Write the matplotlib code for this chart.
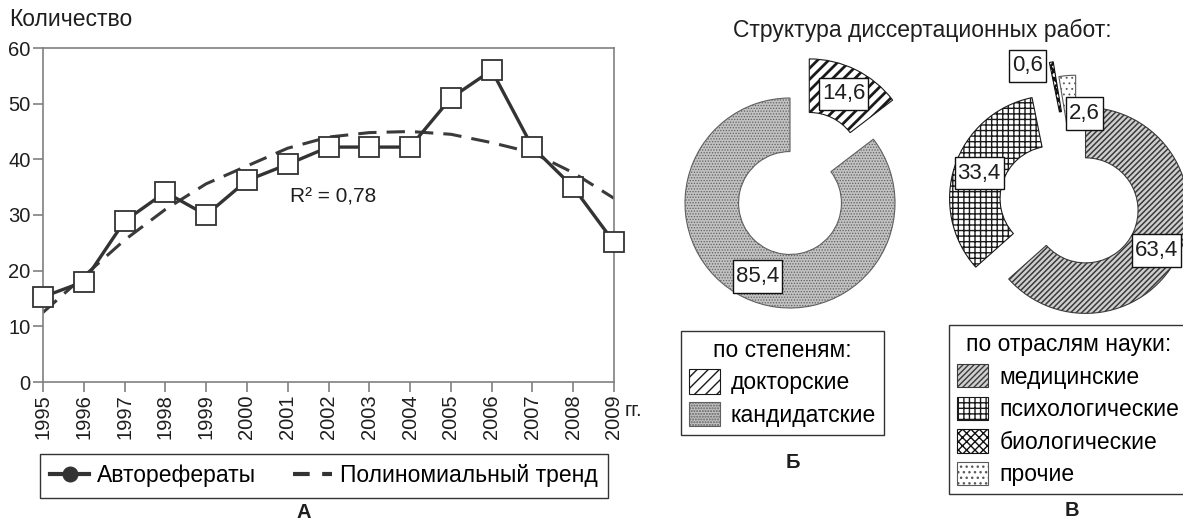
import matplotlib

matplotlib.use("Agg")
import matplotlib.pyplot as plt
import matplotlib.patches as mpatches
from matplotlib.lines import Line2D

plt.rcParams["font.family"] = ["Liberation Sans", "DejaVu Sans"]
plt.rcParams["hatch.linewidth"] = 1.0

# %% data
YEARS = [1995, 1996, 1997, 1998, 1999, 2000, 2001, 2002, 2003, 2004, 2005, 2006, 2007, 2008, 2009]
ABSTRACTS = [15.3, 18.0, 28.9, 34.1, 30.0, 36.2, 39.1, 42.2, 42.2, 42.2, 51.0, 56.0, 42.2, 35.0, 25.1]
TREND = [12.5, 19.0, 25.5, 31.0, 35.6, 38.8, 42.0, 44.0, 44.8, 45.0, 44.5, 43.0, 41.2, 37.6, 33.0]
R2_TEXT = "R² = 0,78"

DEGREE_LABELS = ["докторские", "кандидатские"]
DEGREE_SHARES = [14.6, 85.4]
FIELD_LABELS = ["медицинские", "психологические", "биологические", "прочие"]
FIELD_SHARES = [63.4, 33.4, 0.6, 2.6]

# %% layout / styles
W, H = 1183, 522
FS_TICK = 14.5
FS = 16.5
FS_LBL = 16
FS_LETTER = 14.5
DARK = "#333333"
TXT = "#1e1e1e"

DEGREE_STYLE = [
    dict(facecolor="white", edgecolor="#1a1a1a", hatch="///", hlw=2.0),
    dict(facecolor="#c2c2c2", edgecolor="#606060", hatch="......", hlw=0.6),
]
DEGREE_EXPLODE = [0.415, 0.0]
DEGREE_LABEL_POS = [(0.51, 1.04), (-0.31, -0.70)]

FIELD_STYLE = [
    dict(facecolor="#cfcfcf", edgecolor="#3a3a3a", hatch="//////", hlw=1.1),
    dict(facecolor="white", edgecolor="#1a1a1a", hatch="+++", hlw=1.0),
    dict(facecolor="white", edgecolor="#111111", hatch="xxxx", hlw=1.8),
    dict(facecolor="white", edgecolor="#5a5a5a", hatch="...", hlw=0.6),
]
FIELD_EXPLODE = [0.08, 0.26, 0.43, 0.28]
FIELD_LABEL_POS = [(0.76, -0.42), (-0.96, 0.33), (-0.49, 1.37), (0.06, 0.91)]


def px_axes(fig, cx, cy, half):
    return fig.add_axes([(cx - half) / W, 1 - (cy + half) / H, 2 * half / W, 2 * half / H])


def fmt_share(v):
    return f"{v:.1f}".replace(".", ",")


def apply_style(p, st):
    p.set_facecolor(st["facecolor"])
    p.set_edgecolor(st["edgecolor"])
    p.set_hatch(st["hatch"])
    try:
        p.set_hatch_linewidth(st["hlw"])
    except AttributeError:
        pass
    return p


def styled_patch(st):
    return apply_style(mpatches.Patch(linewidth=0.8), st)


def donut(fig, cx, cy, r_px, shares, styles, explode, label_pos, width):
    half = 165
    ax = px_axes(fig, cx, cy, half)
    wedges, _ = ax.pie(shares, explode=explode, startangle=90, counterclock=False,
                       radius=1.0, wedgeprops=dict(width=width, linewidth=0.8))
    for w, st in zip(wedges, styles):
        apply_style(w, st)
    lim = half / r_px
    ax.set_xlim(-lim, lim)
    ax.set_ylim(-lim, lim)
    ax.set_aspect("equal")
    ax.axis("off")
    for v, (lx, ly) in zip(shares, label_pos):
        ax.text(lx, ly, fmt_share(v), ha="center", va="center", fontsize=FS_LBL,
                color=TXT, zorder=5,
                bbox=dict(boxstyle="square,pad=0.13", facecolor="white",
                          edgecolor="#111111", linewidth=1.0, mutation_aspect=2.0))
    return ax


fig = plt.figure(figsize=(W / 100, H / 100), dpi=100)

# %% A: line chart
ax = fig.add_axes([43 / W, 1 - 382 / H, 571 / W, 334 / H])
ax.plot(YEARS, TREND, color="#3a3a3a", lw=2.2, dashes=(6, 3.3), zorder=2)
ax.plot(YEARS, ABSTRACTS, color=DARK, lw=2.4, marker="s", ms=14, mfc="white",
        mec=DARK, mew=1.3, clip_on=False, zorder=3)
ax.set_xlim(YEARS[0], YEARS[-1])
ax.set_ylim(0, 60)
ax.set_yticks(range(0, 61, 10))
ax.set_xticks(YEARS)
ax.set_xticklabels([str(y) for y in YEARS], rotation=90)
for s in ax.spines.values():
    s.set_color("#808080")
    s.set_linewidth(1.2)
ax.tick_params(direction="out", length=7, width=1.2, color="#808080",
               labelsize=FS_TICK, labelcolor=TXT, pad=2)
ax.text(2001.05, 33.2, R2_TEXT, va="center", ha="left", fontsize=15, color=TXT)

fig.text(9 / W, 1 - 20 / H, "Количество", va="center", ha="left", fontsize=FS, color=TXT)
fig.text(625 / W, 1 - 410 / H, "гг.", va="center", ha="left", fontsize=FS_TICK, color=TXT)

leg_handles = [
    Line2D([], [], color=DARK, lw=3, marker="o", ms=10.5, mfc=DARK, mec=DARK),
    Line2D([], [], color=DARK, lw=3, dashes=(4, 3)),
]
leg = fig.legend(leg_handles, ["Авторефераты", "Полиномиальный тренд"], ncol=2,
                 loc="upper left", bbox_to_anchor=(40 / W, 1 - 454 / H),
                 borderaxespad=0, fontsize=FS, handlelength=1.7, handletextpad=0.35,
                 columnspacing=1.6, fancybox=False, framealpha=1, borderpad=0.45)
leg.get_frame().set_edgecolor(DARK)
leg.get_frame().set_linewidth(1.0)

fig.text(304 / W, 1 - 512 / H, "А", ha="center", va="center", fontsize=FS_LETTER,
         fontweight="bold", color=TXT)

# %% Б and В: donuts
fig.text(922 / W, 1 - 30 / H, "Структура диссертационных работ:", ha="center",
         va="center", fontsize=FS, color=TXT)

donut(fig, 790, 203, 105, DEGREE_SHARES, DEGREE_STYLE, DEGREE_EXPLODE, DEGREE_LABEL_POS, 0.51)
donut(fig, 1078, 207, 103, FIELD_SHARES, FIELD_STYLE, FIELD_EXPLODE, FIELD_LABEL_POS, 0.49)

leg_b = fig.legend([styled_patch(s) for s in DEGREE_STYLE], DEGREE_LABELS,
                   title="по степеням:", loc="upper left",
                   bbox_to_anchor=(681 / W, 1 - 331 / H), borderaxespad=0,
                   fontsize=FS, title_fontsize=FS, handlelength=1.35,
                   handleheight=1.27, handletextpad=0.45, labelspacing=0.32,
                   fancybox=False, framealpha=1, borderpad=0.35)
leg_b.get_frame().set_edgecolor(DARK)

leg_c = fig.legend([styled_patch(s) for s in FIELD_STYLE], FIELD_LABELS,
                   title="по отраслям науки:", loc="upper left",
                   bbox_to_anchor=(949 / W, 1 - 325 / H), borderaxespad=0,
                   fontsize=FS, title_fontsize=FS, handlelength=1.35,
                   handleheight=1.18, handletextpad=0.5, labelspacing=0.36,
                   fancybox=False, framealpha=1, borderpad=0.35)
leg_c.get_frame().set_edgecolor(DARK)

fig.text(793 / W, 1 - 462 / H, "Б", ha="center", va="center", fontsize=FS_LETTER,
         fontweight="bold", color=TXT)
fig.text(1072 / W, 1 - 510 / H, "В", ha="center", va="center", fontsize=FS_LETTER,
         fontweight="bold", color=TXT)

fig.savefig("out.png", dpi=100, facecolor="white")
